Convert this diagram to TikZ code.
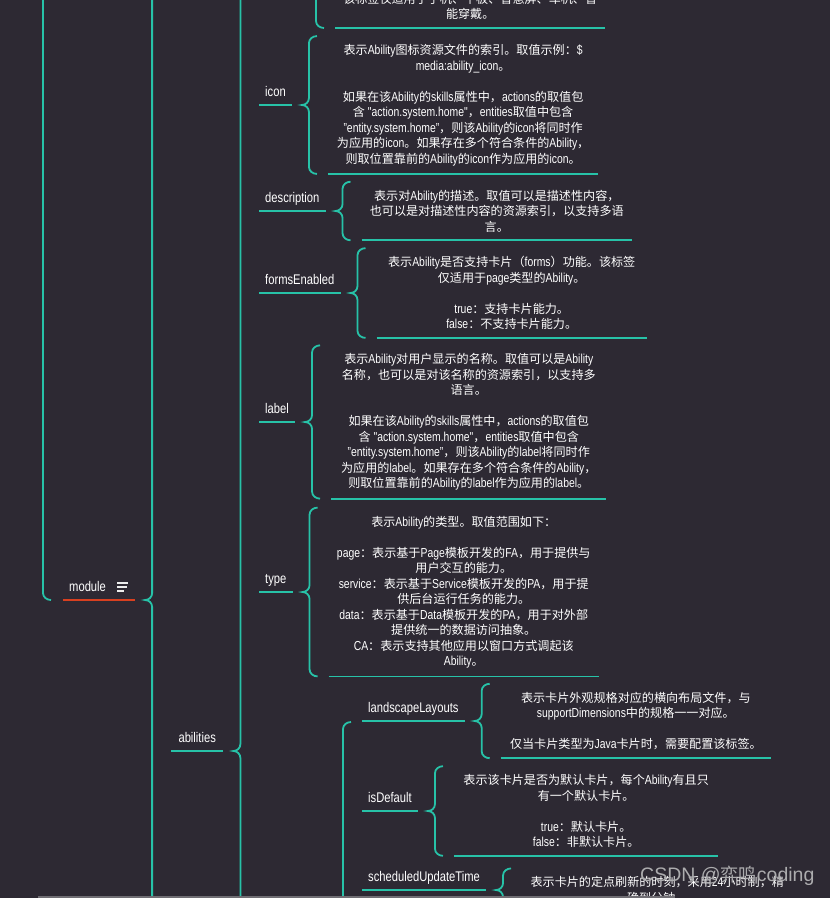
\documentclass[tikz,border=0pt]{standalone}
\usepackage{fontspec}
\usepackage{xcolor}
\usetikzlibrary{positioning, calc}

\setmainfont{Liberation Sans}[FakeStretch=0.8]
\newfontfamily\latfont{Liberation Sans}[FakeStretch=0.8]
\newfontfamily\wmfont{Liberation Sans}
\newfontfamily\cjkfont{Noto Sans CJK SC}[Scale=0.93]

% Chinese characters are set in the CJK font
\XeTeXinterchartokenstate=1
\newXeTeXintercharclass\cjkclass
\newcount\cjkcode
\newcommand\cjkrange[2]{\cjkcode=#1\relax
  \loop\XeTeXcharclass\cjkcode=\cjkclass
  \ifnum\cjkcode<#2\relax\advance\cjkcode by 1\relax\repeat}
\cjkrange{"3000}{"303F}
\cjkrange{"4E00}{"9FFF}
\cjkrange{"FF00}{"FFEF}
\XeTeXinterchartoks 0 \cjkclass = {\cjkfont}
\XeTeXinterchartoks 4095 \cjkclass = {\cjkfont}
\XeTeXinterchartoks \cjkclass 0 = {\latfont}
\XeTeXinterchartoks \cjkclass 4095 = {\latfont}

\definecolor{bgc}{RGB}{45,41,51}
\definecolor{lnc}{RGB}{39,194,168}
\definecolor{redln}{RGB}{216,64,32}
\definecolor{barc}{RGB}{112,110,116}
\definecolor{wmc}{RGB}{172,172,174}

% brace: parent point, top of children, bottom of children
\newcommand\brc[3]{%
  \draw[conn] let \p1=#1, \p2=#2, \p3=#3 in
    (\x1+25pt,\y2) to[out=180,in=90] (\x1+17pt,\y2-7pt)
    -- (\x1+17pt,\y1+7pt) to[out=-90,in=0] (\x1+10pt,\y1)
    to[out=0,in=90] (\x1+17pt,\y1-7pt)
    -- (\x1+17pt,\y3+7pt) to[out=-90,in=180] (\x1+25pt,\y3);}

\begin{document}
\begin{tikzpicture}[x=1pt, y=-1pt,
    conn/.style={lnc, line width=1.8pt},
    lbl/.style={text=white, font=\fontsize{14}{16}\selectfont, inner xsep=6pt,
      inner ysep=5.5pt, text height=10pt, text depth=3pt, anchor=south west},
    key/.style={lbl, append after command={(\tikzlastnode.south west) edge[conn] (\tikzlastnode.south east)}},
    mkey/.style={lbl, append after command={(\tikzlastnode.south west) edge[redln, line width=2pt] (\tikzlastnode.south east)}},
    desc/.style={align=center, text=white, font=\fontsize{13}{15.5}\selectfont,
      inner xsep=8pt, inner ysep=8pt, minimum width=270pt,
      append after command={(\tikzlastnode.south west) edge[conn] (\tikzlastnode.south east)}}]
    \useasboundingbox (0,0) rectangle (830,898);
    \fill[bgc] (0,0) rectangle (830,898);

    \node[mkey] (mod) at (63,600) {module\hspace{23pt}\mbox{}};
    \foreach \dy/\w in {-17/11, -13/10, -9/7}
        \draw[white!85!gray, line width=1.3pt] (mod.south east) ++(-18,\dy) -- ++(\w,0);
    \node[key, minimum width=52pt] (abil) at (171,751) {abilities};

    \node[desc, anchor=south west] (topT) at (335,28) {该标签仅适用于手机、平板、智慧屏、车机、智\\能穿戴。};

    \node[key] (icon) at (259,105) {icon};
    \node[desc, right=36pt of icon.south east] (iconT) {表示Ability图标资源文件的索引。取值示例：\$\\
        media:ability\_icon。\\[15.5pt]
        如果在该Ability的skills属性中，actions的取值包\\
        含 "action.system.home"，entities取值中包含\\
        "entity.system.home"，则该Ability的icon将同时作\\
        为应用的icon。如果存在多个符合条件的Ability，\\
        则取位置靠前的Ability的icon作为应用的icon。};

    \node[key] (desc) at (259,211) {description};
    \node[desc, right=36pt of desc.south east] (descT) {表示对Ability的描述。取值可以是描述性内容，\\
        也可以是对描述性内容的资源索引，以支持多语\\
        言。};

    \node[key] (forms) at (259,293) {formsEnabled};
    \node[desc, right=36pt of forms.south east] (formsT) {表示Ability是否支持卡片（forms）功能。该标签\\
        仅适用于page类型的Ability。\\[15.5pt]
        true：支持卡片能力。\\
        false：不支持卡片能力。};

    \node[key] (lbl) at (259,422) {label};
    \node[desc, minimum width=275pt, right=36pt of lbl.south east] (lblT) {表示Ability对用户显示的名称。取值可以是Ability\\
        名称，也可以是对该名称的资源索引，以支持多\\
        语言。\\[15.5pt]
        如果在该Ability的skills属性中，actions的取值包\\
        含 "action.system.home"，entities取值中包含\\
        "entity.system.home"，则该Ability的label将同时作\\
        为应用的label。如果存在多个符合条件的Ability，\\
        则取位置靠前的Ability的label作为应用的label。};

    \node[key] (type) at (259,592) {type};
    \node[desc, right=36pt of type.south east] (typeT) {表示Ability的类型。取值范围如下：\\[15.5pt]
        page：表示基于Page模板开发的FA，用于提供与\\
        用户交互的能力。\\
        service：表示基于Service模板开发的PA，用于提\\
        供后台运行任务的能力。\\
        data：表示基于Data模板开发的PA，用于对外部\\
        提供统一的数据访问抽象。\\
        CA：表示支持其他应用以窗口方式调起该\\
        Ability。};

    \node[key] (land) at (362,721) {landscapeLayouts};
    \node[desc, right=36pt of land.south east] (landT) {表示卡片外观规格对应的横向布局文件，与\\
        supportDimensions中的规格一一对应。\\[15.5pt]
        仅当卡片类型为Java卡片时，需要配置该标签。};

    \node[key] (dflt) at (362,811) {isDefault};
    \node[desc, minimum width=264pt, right=36pt of dflt.south east] (dfltT) {表示该卡片是否为默认卡片，每个Ability有且只\\
        有一个默认卡片。\\[15.5pt]
        true：默认卡片。\\
        false：非默认卡片。};

    \node[key] (sched) at (362,890) {scheduledUpdateTime};
    \node[desc, right=36pt of sched.south east] (schedT) {表示卡片的定点刷新的时刻，采用24小时制，精\\
        确到分钟。};

    % braces
    \brc{(26,-300)}{(0,-400)}{(0,600)}
    \brc{(mod.south east)}{(0,-100)}{(0,1000)}
    \brc{(abil.south east)}{(0,-100)}{(0,1000)}
    \brc{(299,-100)}{(0,-200)}{(topT.south west)}
    \brc{(326,1000)}{(0,722)}{(0,1100)}
    \foreach \k in {icon, desc, forms, lbl, type, land, dflt, sched}
        {\brc{(\k.south east)}{(\k T.north west)}{(\k T.south west)}}

    \node[text=wmc, anchor=base west, inner sep=0pt] (wm) at (640,881)
        {\XeTeXinterchartokenstate=0 \wmfont\fontsize{19.5}{22}\selectfont CSDN @{\cjkfont 弈鸣}coding};
    \fill[barc] (38,895.5) rectangle (675,898);
\end{tikzpicture}
\end{document}
